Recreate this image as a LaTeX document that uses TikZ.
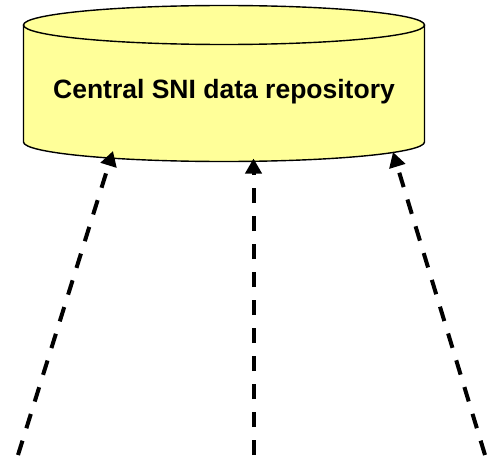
\documentclass[tikz,border=0pt]{standalone}
\usepackage{fontspec}
\setmainfont{Liberation Sans}
\usetikzlibrary{arrows.meta}
\definecolor{dbyellow}{HTML}{FFFF99}
\tikzset{
  flowarrow/.style={line width=4pt, dash pattern=on 15pt off 13pt,
    -{Triangle[length=15pt,width=16pt]}},
  dblabel/.style={font=\fontsize{26.5}{30}\selectfont\bfseries, inner sep=0pt},
  dbline/.style={line width=1.4pt}
}
\begin{document}
\begin{tikzpicture}[x=1pt,y=1pt]
\useasboundingbox (0,0) rectangle (487,459);
% cylinder body
\fill[dbyellow] (23.5,434) -- (23.5,317)
  arc[start angle=180,end angle=360,x radius=200.5,y radius=19.5]
  -- (424.5,434)
  arc[start angle=0,end angle=180,x radius=200.5,y radius=19.5] -- cycle;
\draw[dbline] (23.5,434) -- (23.5,317)
  arc[start angle=180,end angle=360,x radius=200.5,y radius=19.5]
  -- (424.5,434);
\draw[dbline] (224,434) ellipse[x radius=200.5,y radius=19.5];
\node[dblabel] (repo) at (224,367) {Central SNI data repository};
% arrow endpoints
\coordinate (hL) at (113,308);
\coordinate (hM) at (253.5,300.5);
\coordinate (hR) at (393,307);
\coordinate (tL) at (18,4);
\coordinate (tM) at (253.5,4);
\coordinate (tR) at (485,4);
\draw[flowarrow] (tL) -- (hL);
\draw[flowarrow] (tM) -- (hM);
\draw[flowarrow] (tR) -- (hR);
\end{tikzpicture}
\end{document}
